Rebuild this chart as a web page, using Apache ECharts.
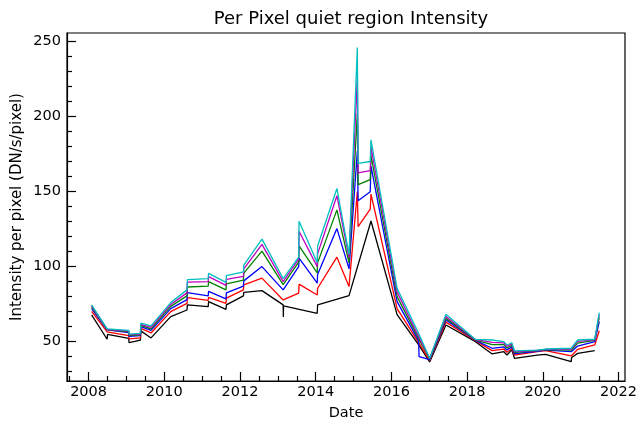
<!DOCTYPE html>
<html>
<head>
<meta charset="utf-8">
<script src="https://cdn.jsdelivr.net/npm/echarts@6/dist/echarts.min.js"></script>
<style>html,body{margin:0;padding:0;background:#fff;}#c{width:640px;height:422px;}</style>
</head>
<body>
<div id="c"></div>
<script>
// ---- data (decimal years) ----
const dates = [2008.08, 2008.49, 2008.50, 2009.06, 2009.07, 2009.37, 2009.38, 2009.65, 2010.17, 2010.60,
  2010.61, 2011.16, 2011.17, 2011.63, 2011.64, 2012.09, 2012.10, 2012.58, 2013.14, 2013.145,
  2013.15, 2013.55, 2013.56, 2014.04, 2014.05, 2014.56, 2014.88, 2015.10, 2015.12, 2015.44,
  2015.46, 2016.15, 2016.72, 2016.73, 2017.01, 2017.44, 2018.22, 2018.66, 2018.97, 2019.05,
  2019.18, 2019.25, 2019.85, 2020.07, 2020.75, 2020.76, 2020.92, 2021.37, 2021.49];

const blackVals = [67.8, 51.6, 54.8, 52.2, 49.3, 51.1, 57.2, 52.5, 66.7, 71.1,
  74.5, 73.3, 76.7, 71.5, 74.5, 80.5, 82.9, 84.0, 74.5, 66.5,
  73.8, null, null, 68.9, 74.5, null, 80.7, null, null, null,
  130.4, 68.0, 47.8, 47.8, 36.5, 61.1, 50.0, 41.8, 43.3, 41.1,
  44.5, 38.9, 41.1, 41.6, 36.7, 39.5, 42.2, 44.0, null];

const redVals = [70.2, 56.5, 56.5, 54.0, 51.8, 52.5, 58.8, 55.8, 70.0, 75.5,
  79.4, 77.5, 79.5, 75.5, 79.0, 84.5, 87.8, 92.3, 77.8, 77.8,
  77.8, 82.3, 88.3, 81.1, 85.6, 106.3, 86.7, 150.0, 126.6, 138.3,
  148.3, 72.0, 49.4, 49.4, 37.5, 63.0, 50.6, 44.0, 45.0, 43.0,
  45.5, 41.1, 43.3, 44.0, 40.5, 40.5, 44.9, 47.8, 57.3];

const blueVals = [72.0, 57.8, 57.8, 56.0, 53.5, 54.0, 60.0, 57.5, 72.0, 78.0,
  82.7, 80.5, 83.5, 78.5, 82.5, 87.0, 90.5, 100.0, 84.5, 84.5,
  84.5, 100.0, 105.6, 89.0, 94.7, 125.3, 98.5, 177.0, 143.9, 149.9,
  167.0, 76.7, 50.5, 40.0, 38.0, 64.5, 50.9, 45.6, 46.5, 44.5,
  46.5, 42.0, 43.6, 44.4, 43.3, 43.3, 47.1, 50.0, 63.3];

const greenVals = [73.0, 58.0, 58.0, 56.5, 54.0, 54.5, 60.8, 58.5, 73.5, 80.5,
  86.4, 87.0, 90.0, 84.5, 88.5, 91.0, 95.6, 110.3, 88.0, 88.0,
  88.0, 103.0, 113.8, 95.8, 102.5, 137.8, 102.5, 202.0, 154.6, 158.0,
  174.0, 80.0, 52.0, 52.0, 38.5, 65.5, 51.1, 48.0, 48.0, 45.8,
  47.5, 42.8, 43.9, 44.7, 44.3, 44.3, 49.0, 50.8, 66.0];

const magentaVals = [73.8, 58.2, 58.2, 57.0, 54.5, 55.0, 61.5, 59.5, 74.8, 82.5,
  89.6, 90.0, 93.3, 87.5, 91.5, 93.5, 98.5, 114.8, 90.0, 90.0,
  90.0, 105.0, 123.5, 100.0, 108.5, 147.2, 106.0, 226.0, 162.4, 164.0,
  179.6, 83.0, 53.5, 53.5, 38.8, 66.8, 51.3, 49.5, 49.2, 46.8,
  48.5, 43.3, 44.1, 44.9, 45.0, 45.0, 50.2, 51.2, 68.0];

const cyanVals = [74.5, 58.5, 58.5, 57.5, 55.0, 55.5, 62.3, 60.5, 76.0, 84.5,
  91.3, 92.0, 95.5, 89.5, 94.0, 96.5, 101.0, 118.3, 92.0, 92.0,
  92.0, 106.3, 130.2, 102.5, 113.7, 152.0, 108.0, 246.0, 168.7, 170.0,
  184.5, 85.5, 55.5, 55.5, 39.0, 68.3, 51.5, 51.1, 50.0, 47.8,
  49.3, 43.9, 44.4, 45.1, 45.6, 45.6, 51.1, 51.6, 69.3];

const xMajorTicks = [2008, 2010, 2012, 2014, 2016, 2018, 2020, 2022];
const xMinorTicks = [2007.5, 2008.5, 2009, 2009.5, 2010.5, 2011, 2011.5, 2012.5, 2013, 2013.5,
  2014.5, 2015, 2015.5, 2016.5, 2017, 2017.5, 2018.5, 2019, 2019.5, 2020.5, 2021, 2021.5];
const yMajorTicks = [50, 100, 150, 200, 250];
const yMinorTicks = [30, 40, 60, 70, 80, 90, 110, 120, 130, 140, 160, 170, 180, 190, 210, 220, 230, 240];

// ---- chart ----
const FONT = 'DejaVu Sans';
const seriesDefs = [
  {name: 'black', vals: blackVals, color: '#000000'},
  {name: 'red', vals: redVals, color: '#ff0000'},
  {name: 'blue', vals: blueVals, color: '#0000ff'},
  {name: 'green', vals: greenVals, color: '#008000'},
  {name: 'magenta', vals: magentaVals, color: '#bf00bf'},
  {name: 'cyan', vals: cyanVals, color: '#00bfbf'}
];
function pts(vals) {
  const out = [];
  for (let i = 0; i < dates.length; i++) if (vals[i] !== null) out.push([dates[i], vals[i]]);
  return out;
}
const X_MIN = 2007.43, X_MAX = 2022.17, Y_MIN = 23.8, Y_MAX = 255.6;
const axisCommon = {color: '#000', width: 1.2};
const chart = echarts.init(document.getElementById('c'), null, {renderer: 'canvas'});
chart.setOption({
  animation: false,
  backgroundColor: '#fff',
  title: {
    text: 'Per Pixel quiet region Intensity',
    left: 346, top: 5, textAlign: 'center',
    textStyle: {fontFamily: FONT, fontSize: 18, fontWeight: 'normal', color: '#000'}
  },
  grid: {left: 67, right: 15, top: 33, bottom: 41, show: true, borderColor: '#000', borderWidth: 1.2,
    containLabel: false, outerBoundsMode: 'none'},
  xAxis: [
    {
      type: 'value', min: X_MIN, max: X_MAX, position: 'bottom',
      name: 'Date', nameLocation: 'middle', nameGap: 25, nameMoveOverlap: false,
      nameTextStyle: {fontFamily: FONT, fontSize: 14.5, color: '#000'},
      axisLine: {show: true, onZero: false, lineStyle: axisCommon},
      axisTick: {show: true, inside: true, length: 9, customValues: xMajorTicks, lineStyle: axisCommon},
      axisLabel: {show: true, customValues: xMajorTicks, margin: 4, fontFamily: FONT, fontSize: 14.5, color: '#000', formatter: v => String(v)},
      splitLine: {show: false}
    },
    {
      type: 'value', min: X_MIN, max: X_MAX, position: 'bottom',
      axisLine: {show: false, onZero: false},
      axisTick: {show: true, inside: true, length: 5, customValues: xMinorTicks, lineStyle: axisCommon},
      axisLabel: {show: false},
      splitLine: {show: false}
    }
  ],
  yAxis: [
    {
      type: 'value', min: Y_MIN, max: Y_MAX, position: 'left',
      name: 'Intensity per pixel (DN/s/pixel)', nameLocation: 'middle', nameGap: 42, nameRotate: 90,
      nameMoveOverlap: false,
      nameTextStyle: {fontFamily: FONT, fontSize: 15, color: '#000'},
      axisLine: {show: true, onZero: false, lineStyle: axisCommon},
      axisTick: {show: true, inside: true, length: 9, customValues: yMajorTicks, lineStyle: axisCommon},
      axisLabel: {show: true, customValues: yMajorTicks, margin: 6, fontFamily: FONT, fontSize: 14.5, color: '#000', formatter: v => String(v)},
      splitLine: {show: false}
    },
    {
      type: 'value', min: Y_MIN, max: Y_MAX, position: 'left', offset: 0,
      axisLine: {show: false, onZero: false},
      axisTick: {show: true, inside: true, length: 5, customValues: yMinorTicks, lineStyle: axisCommon},
      axisLabel: {show: false},
      splitLine: {show: false}
    }
  ],
  series: seriesDefs.map(s => ({
    name: s.name, type: 'line', xAxisIndex: 0, yAxisIndex: 0,
    data: pts(s.vals), showSymbol: false, symbol: 'none',
    lineStyle: {color: s.color, width: 1.3}, itemStyle: {color: s.color},
    emphasis: {disabled: true}
  }))
});
</script>
</body>
</html>
